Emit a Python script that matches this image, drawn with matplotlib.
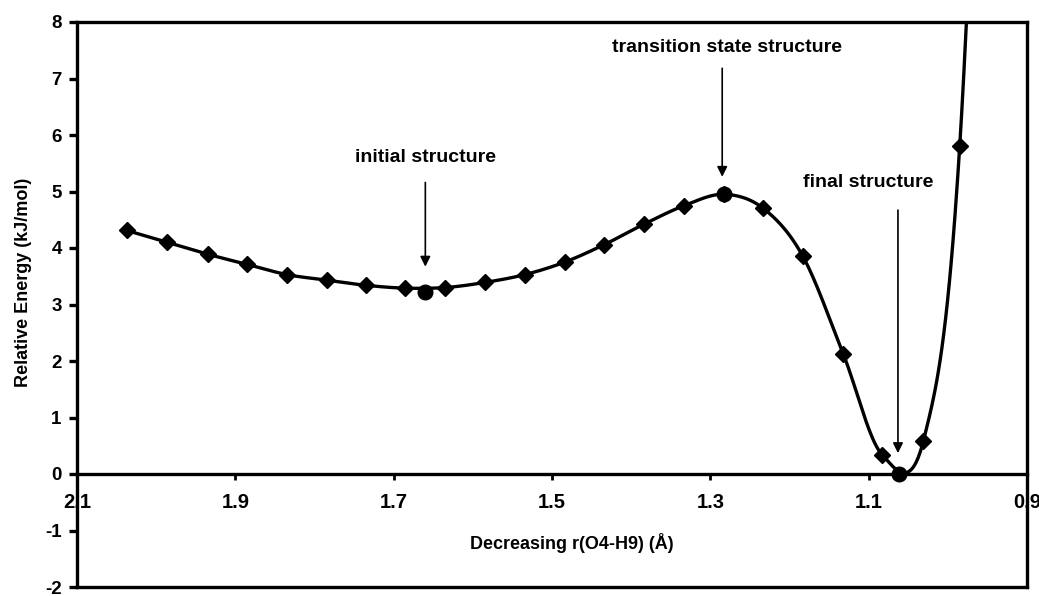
import matplotlib
matplotlib.use("Agg")
import matplotlib.pyplot as plt
import numpy as np

plt.rcParams['font.family'] = ['Liberation Sans', 'DejaVu Sans']
plt.rcParams['font.weight'] = 'bold'
plt.rcParams['axes.unicode_minus'] = False

# scan points: distance r(O4-H9) and relative energy
r = [2.037, 1.986, 1.935, 1.885, 1.835, 1.784, 1.735, 1.686, 1.635, 1.585,
     1.534, 1.484, 1.434, 1.384, 1.333, 1.283, 1.233, 1.183, 1.132, 1.083,
     1.031, 0.985, 0.935]
energy = [4.31, 4.10, 3.89, 3.71, 3.53, 3.43, 3.34, 3.29, 3.30, 3.39,
          3.53, 3.75, 4.06, 4.42, 4.75, 4.95, 4.70, 3.85, 2.12, 0.34,
          0.58, 5.80, 22.0]

# highlighted structures
key_r = [1.660, 1.283, 1.062]
key_e = [3.23, 4.95, 0.0]

labels = ['initial structure', 'transition state structure', 'final structure']
label_pos = [(1.660, 5.60), (1.279, 7.54), (1.100, 5.16)]
arrow_top = [(1.660, 5.21), (1.285, 7.23), (1.063, 4.72)]
arrow_tip = [(1.660, 3.62), (1.285, 5.21), (1.063, 0.32)]

xticks = [2.1, 1.9, 1.7, 1.5, 1.3, 1.1, 0.9]
yticks = [-2, -1, 0, 1, 2, 3, 4, 5, 6, 7, 8]


def smooth(x, y, n=40):
    # bezier through the points, like Excel's smoothed line
    x = np.asarray(x, float)
    y = np.asarray(y, float)
    px = np.concatenate([[x[0]], x, [x[-1]]])
    py = np.concatenate([[y[0]], y, [y[-1]]])
    xs, ys = [], []
    t = np.linspace(0, 1, n)
    for i in range(1, len(px) - 2):
        p0, p1, p2, p3 = [np.array([px[j], py[j]]) for j in (i - 1, i, i + 1, i + 2)]
        c1 = p1 + (p2 - p0) / 6
        c2 = p2 - (p3 - p1) / 6
        b = ((1 - t) ** 3)[:, None] * p1 + (3 * (1 - t) ** 2 * t)[:, None] * c1 \
            + (3 * (1 - t) * t ** 2)[:, None] * c2 + (t ** 3)[:, None] * p2
        xs.append(b[:, 0])
        ys.append(b[:, 1])
    return np.concatenate(xs), np.concatenate(ys)


fig = plt.figure(figsize=(10.39, 5.96), dpi=100)
ax = fig.add_axes([77 / 1039, 1 - 587 / 596, 950 / 1039, 565 / 596])

sx, sy = smooth(r, energy)
ax.plot(sx, sy, color='black', lw=2.4, zorder=3)
ax.plot(r, energy, linestyle='none', marker='D', markersize=8.3, color='black', zorder=4)
ax.plot(key_r, key_e, linestyle='none', marker='o', markersize=10.5, color='black',
        zorder=5, clip_on=False)

for lab, lp, a0, a1 in zip(labels, label_pos, arrow_top, arrow_tip):
    ax.text(lp[0], lp[1], lab, ha='center', va='center', fontsize=14, fontweight='bold')
    ax.annotate('', xy=a1, xytext=a0,
                arrowprops=dict(arrowstyle='-|>', lw=1.2, color='black', mutation_scale=15))

ax.set_xlim(2.1, 0.9)
ax.set_ylim(-2, 8)
ax.set_xticks(xticks)
ax.set_xticklabels([str(v) for v in xticks])
ax.set_yticks(yticks)

for s in ['top', 'left', 'right', 'bottom']:
    ax.spines[s].set_linewidth(2.4)
ax.spines['bottom'].set_position(('data', 0))
ax.axhline(-2, color='black', lw=2.4, clip_on=False, zorder=6)

ax.tick_params(axis='x', direction='out', length=4, width=2, pad=10, labelsize=14.5)
ax.tick_params(axis='y', direction='out', length=6, width=2.4, pad=5, labelsize=13.5)
for t in ax.get_xticklabels() + ax.get_yticklabels():
    t.set_fontweight('bold')

ax.text(1.475, -1.22, 'Decreasing r(O4-H9) (Å)', ha='center', va='center',
        fontsize=13, fontweight='bold')
fig.text(24 / 1039, 1 - 282 / 596, 'Relative Energy (kJ/mol)', rotation=90,
         ha='center', va='center', fontsize=13, fontweight='bold')

fig.savefig('out.png', dpi=100)
